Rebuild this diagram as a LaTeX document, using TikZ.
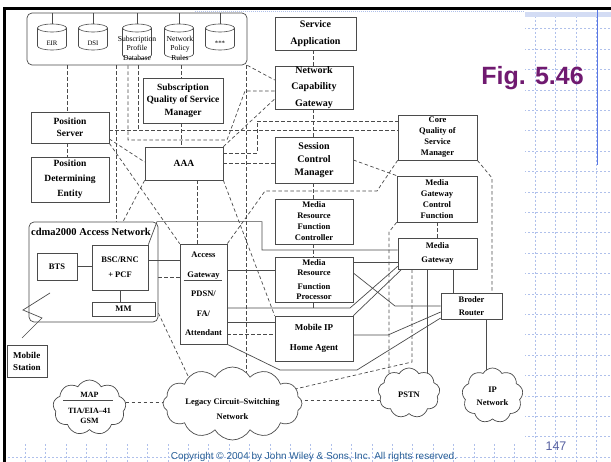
\documentclass[tikz,border=0pt]{standalone}
\usepackage{fontspec}
\setmainfont{Liberation Serif}
\newfontfamily\slidefont{Liberation Sans}
\usetikzlibrary{shapes.symbols,calc}
\pgfdeclarelayer{slide}
\pgfdeclarelayer{wires}
\pgfsetlayers{slide,wires,main}
\definecolor{lc}{RGB}{75,75,75}
\definecolor{gridblue}{RGB}{175,192,235}
\definecolor{figpurple}{RGB}{112,26,112}
\definecolor{copyblue}{RGB}{40,95,150}
\definecolor{pageblue}{RGB}{85,95,160}
\definecolor{railblue}{RGB}{90,120,230}
\newcommand\setfs[2]{\fontsize{#1}{#2}\selectfont\bfseries}
\newcommand\setfr[2]{\fontsize{#1}{#2}\selectfont}

\begin{document}
\begin{tikzpicture}[x=1pt,y=-1pt,
  box/.style={draw=lc,line width=0.7pt,fill=white,inner sep=0pt,align=center},
  rbox/.style={box,rounded corners=5pt},
  sl/.style={draw=lc,line width=0.7pt},
  dl/.style={draw=lc,line width=0.7pt,dash pattern=on 3.5pt off 2.5pt},
  cyl/.style={draw=lc,line width=0.6pt},
  cl/.style={cloud,draw=lc,line width=0.7pt,fill=white,cloud puffs=11,
    cloud puff arc=120,cloud ignores aspect,inner sep=0pt},
  gridl/.style={draw=gridblue,line width=0.5pt,dash pattern=on 2pt off 2pt},
  txt/.style={inner sep=0pt,align=center},
]
\useasboundingbox (0,0) rectangle (611,462);

% ---------- slide background ----------
\begin{pgfonlayer}{slide}
  \fill[white] (0,0) rectangle (611,462);
  \foreach \k in {0,...,28} \draw[gridl] ({25+20.4*\k},0) -- ({25+20.4*\k},462);
  \foreach \k in {0,...,22} \draw[gridl] (0,{457-20.4*\k}) -- (611,{457-20.4*\k});
  \fill[white] (0,0) rectangle (611,8);
  \fill[white] (0,0) rectangle (5,462);
  \fill[white] (5,8) rectangle (525,444);
  \fill[gridblue!55] (525,12.5) rectangle (611,17);
  \draw[gridblue,line width=0.6pt,dash pattern=on 1pt off 1pt] (195,11.5) -- (525,11.5);
  \draw[railblue,line width=0.8pt] (597,10) -- (597,165);
  \draw[black,line width=3pt] (3,8.5) -- (611,8.5);
  \draw[black,line width=3pt] (4.5,8) -- (4.5,462);
\end{pgfonlayer}

% ---------- groups ----------
\node[rbox,minimum width=220,minimum height=52] (DB) at (137,39) {};
\node[rbox,minimum width=129,minimum height=100] (CDMA) at (93.5,272) {};
\node[txt,anchor=west,font=\setfs{10.5}{12}] (cdmalbl) at (31,232) {cdma2000 Access Network};

% ---------- databases ----------
\foreach \nm/\cx/\bt in {dbEIR/52/50, dbDSI/93/50, dbSPD/137/59, dbNPR/179/58, dbETC/220/50} {
  \draw[cyl,fill=white] (\cx-14.5,28) -- (\cx-14.5,\bt-4) arc (180:0:14.5 and 4) -- (\cx+14.5,28);
  \draw[cyl] (\cx,28) ellipse (14.5 and 4);
  \coordinate (\nm) at (\cx,24);
  \draw[cyl] (\nm) -- (\cx,0 |- DB.north);
}
\node[txt,font=\setfr{6.8}{8}] (tEIR) at (52,43) {EIR};
\node[txt,font=\setfr{6.8}{8}] (tDSI) at (93,43) {DSI};
\node[txt,font=\setfr{7.6}{9.5}] (tSPD) at (137,48) {Subscription\\Profile\\Database};
\node[txt,font=\setfr{7.6}{9.5}] (tNPR) at (180,48) {Network\\Policy\\Rules};
\node[txt,font=\setfr{6.8}{8}] (tETC) at (220,43) {***};

% ---------- functional entities ----------
\node[box,minimum width=81,minimum height=33,font=\setfs{10}{17}] (SA) at (315.5,33.5) {Service\\Application};
\node[box,minimum width=78,minimum height=43,font=\setfs{10}{16.5}] (NCG) at (314,87.5) {Network\\Capability\\Gateway};
\node[box,minimum width=80,minimum height=45,font=\setfs{9.5}{12.5}] (SQ) at (183,100.5) {Subscription\\Quality of Service\\Manager};
\node[box,minimum width=78,minimum height=31,font=\setfs{9.5}{12}] (PS) at (70,127.5) {Position\\Server};
\node[box,minimum width=78,minimum height=45,font=\setfs{9.5}{15}] (PDE) at (70,179.5) {Position\\Determining\\Entity};
\node[box,minimum width=78,minimum height=33,font=\setfs{9.5}{12}] (AAA) at (184,163.5) {AAA};
\node[box,minimum width=78,minimum height=46,font=\setfs{10}{13}] (SCM) at (314,160) {Session\\Control\\Manager};
\node[box,minimum width=79,minimum height=45,font=\setfs{8.5}{11}] (CQ) at (437.5,137.5) {Core\\Quality of\\Service\\Manager};
\node[box,minimum width=80,minimum height=46,font=\setfs{8.5}{11}] (MGCF) at (437,199) {Media\\Gateway\\Control\\Function};
\node[box,minimum width=78,minimum height=45,font=\setfs{8.5}{11}] (MRFC) at (314,221.5) {Media\\Resource\\Function\\Controller};
\node[box,minimum width=78,minimum height=45,font=\setfs{8.5}{10.5}] (MRFP) at (314,279.5) {Media\\Resource\\[3pt]Function\\Processor};
\node[box,minimum width=78,minimum height=45,font=\setfs{9}{20}] (MIP) at (314,338.5) {Mobile IP\\Home Agent};
\node[box,minimum width=79,minimum height=31,font=\setfs{8.5}{14}] (MG) at (437.5,253.5) {Media\\Gateway};
\node[box,minimum width=61,minimum height=26,font=\setfs{8.5}{13}] (BR) at (471.5,306) {Broder\\Router};
\node[box,minimum width=47,minimum height=100,font=\setfs{8.5}{19.5}] (AG) at (203.5,294) {Access\\Gateway\\PDSN/\\FA/\\Attendant};
\node[box,minimum width=40,minimum height=27,font=\setfs{8.5}{12}] (BTS) at (57,266.5) {BTS};
\node[box,minimum width=56,minimum height=45,font=\setfs{8.5}{15}] (BSC) at (120,267.5) {BSC/RNC\\+ PCF};
\node[box,minimum width=63,minimum height=14,font=\setfs{8.5}{12}] (MM) at (123.5,309) {MM};
\node[box,minimum width=40,minimum height=32,font=\setfs{9}{12},align=left] (MS) at (27,361) {Mobile\\Station};

% ---------- networks ----------
\node[cl,minimum width=73,minimum height=55,cloud puffs=9] (MAP) at (89.5,407.5) {};
\node[cl,minimum width=139,minimum height=73,cloud puffs=12] (LCS) at (232.5,403.5) {};
\node[cl,minimum width=62,minimum height=50,cloud puffs=9] (PSTN) at (409,393) {};
\node[cl,minimum width=61,minimum height=55,cloud puffs=9] (IPN) at (492.5,395.5) {};
\node[txt,font=\setfs{8}{10}] (tMAP) at (89.5,395) {MAP};
\node[txt,font=\setfs{8}{10}] (tTIA) at (89.5,411) {TIA/EIA–41};
\node[txt,font=\setfs{8}{10}] (tGSM) at (89.5,421) {GSM};
\draw[sl] (63,0 |- MAP.center) ++(0,-7.5) coordinate (mapL) -- (113,0 |- mapL);
\node[txt,font=\setfs{8.5}{15}] (tLCS) at (232.5,409.5) {Legacy Circuit–Switching\\Network};
\node[txt,font=\setfs{8.5}{12}] (tPSTN) at (409,395) {PSTN};
\node[txt,font=\setfs{8.5}{13}] (tIPN) at (492.5,396.5) {IP\\Network};

% ---------- links inside the access network ----------
\draw[sl] (BTS.east) -- (BTS.east -| BSC.west);
\draw[sl] (120,0 |- BSC.south) -- (120,0 |- MM.north);
\draw[sl] (BSC.east |- 0,260) -- (AG.west |- 0,260);
\draw[sl] (BSC.north east) -- (157,0 |- CDMA.north) -- (262,0 |- CDMA.north) -- (262,250) -- (MG.west |- 0,250);
\coordinate (rfA) at (50,293);
\coordinate (rfB) at (22,338);
\draw[sl] (rfA) -- (23,310) -- (42,318) -- (rfB);
\draw[sl] ([xshift=4pt]AG.west |- 0,280) -- ([xshift=-5pt]AG.east |- 0,280);

% ---------- signalling and bearer links ----------
\begin{pgfonlayer}{wires}
  % dashed signalling
  \draw[dl] (67,0 |- DB.south) -- (67,0 |- PS.north);
  \draw[dl] (67,0 |- PS.south) -- (67,0 |- PDE.north);
  \draw[dl] (116,0 |- DB.south) -- (116,0 |- CDMA.north);
  \draw[dl] (128,0 |- DB.south) -- (128,140) -- (227,140) -- (245,91) -- (NCG.west |- 0,91);
  \draw[dl] (138,0 |- DB.south) -- (138,130);
  \draw[dl] (181,0 |- DB.south) -- (181,0 |- SQ.north);
  \draw[dl] (181,0 |- SQ.south) -- (181,0 |- AAA.north);
  \draw[dl] (246,0 |- DB.south) -- (246,0 |- LCS.center);
  \draw[dl] (DB.south east) -- (NCG.west |- 0,80);
  \draw[dl] (PS.east |- 0,130) -- (CQ.west |- 0,130);
  \draw[dl] (AAA.north east) -- (NCG.west |- 0,99);
  \draw[dl] (PS.east |- 0,139) -- (AAA.west |- 0,162);
  \draw[dl] (PS.south east) -- (AG.north west);
  \draw[dl] (AAA.south west) -- (123,0 |- CDMA.north);
  \draw[dl] (197,0 |- AAA.south) -- (197,0 |- AG.north);
  \draw[dl] (AAA.south east) -- (MIP.north west);
  \draw[dl] (AAA.east |- 0,163) -- (SCM.west |- 0,163);
  \draw[dl] (AAA.east |- 0,153) -- (257,153) -- (257,121) -- (CQ.west |- 0,121);
  \draw[dl] (313,0 |- SA.south) -- (313,0 |- NCG.north);
  \draw[dl] (313,0 |- NCG.south) -- (313,0 |- SCM.north);
  \draw[dl] (313,0 |- SCM.south) -- (313,0 |- MRFC.north);
  \draw[dl] (313,0 |- MRFC.south) -- (313,0 |- MRFP.north);
  \draw[dl] (SCM.east) -- (MGCF.north west);
  \draw[dl] (CQ.south west) -- (377,191) -- (265,191) -- (AG.north east);
  \draw[dl] (CQ.south east) -- (492,178) -- (492,0 |- BR.north);
  \draw[dl] (437,0 |- MGCF.south) -- (437,0 |- MG.north);
  \draw[dl] (MGCF.south west) -- (389,232) -- (389,0 |- PSTN.center);
  \draw[dl] (412,0 |- MG.south) -- (412,362) -- (LCS.center);
  \draw[dl] (CDMA.east |- 0,277) -- (AG.west |- 0,277);
  \draw[dl] (CDMA.east |- 0,313) -- ($(LCS.center)+(-40,-18)$);
  \draw[dl] (AG.east |- 0,334) -- (MIP.west |- 0,334);
  \draw[dl] (MAP.center |- 0,402) -- (LCS.center |- 0,402);
  \draw[dl] (LCS.center |- 0,400) -- (PSTN.center |- 0,400);
  % solid bearer paths
  \draw[sl] (AG.east |- 0,270) -- (MRFP.west |- 0,270);
  \draw[sl] (AG.east |- 0,308) -- (350,308) -- ($(MG.south west)+(0,-3)$);
  \draw[sl] (313,0 |- MRFP.south) -- (313,308);
  \draw[sl] (AG.east |- 0,322) -- (MIP.west |- 0,322);
  \draw[sl] (MIP.north east) -- ($(MG.south west)+(4,0)$);
  \draw[sl] (MRFP.east |- 0,262) -- (MG.west |- 0,262);
  \draw[sl] (MRFP.east |- 0,273) -- (395,306) -- (BR.west |- 0,306);
  \draw[sl] (453,0 |- MG.south) -- (453,0 |- BR.north);
  \draw[sl] (427,0 |- MG.south) -- (427,0 |- PSTN.center);
  \draw[sl] (486,0 |- BR.south) -- (486,0 |- IPN.center);
  \draw[sl] (MIP.east |- 0,335) -- (388,335) -- (BR.west |- 0,312);
  \draw[sl] (AG.south east) -- (280,370) -- (357,370) -- (BR.west |- 0,318);
\end{pgfonlayer}

% ---------- slide captions ----------
\node[anchor=base,inner sep=0pt,text=figpurple,font=\slidefont\bfseries\fontsize{25}{30}\selectfont] (fig) at (532.5,85) {Fig. 5.46};
\node[anchor=base,inner sep=0pt,text=copyblue,font=\slidefont\fontsize{10}{12}\selectfont] (copy) at (314,459.5) {Copyright © 2004 by John Wiley \& Sons, Inc. All rights reserved.};
\node[anchor=base,inner sep=0pt,text=pageblue,font=\slidefont\fontsize{12.5}{14}\selectfont] (pg) at (556,450) {147};
\end{tikzpicture}
\end{document}
